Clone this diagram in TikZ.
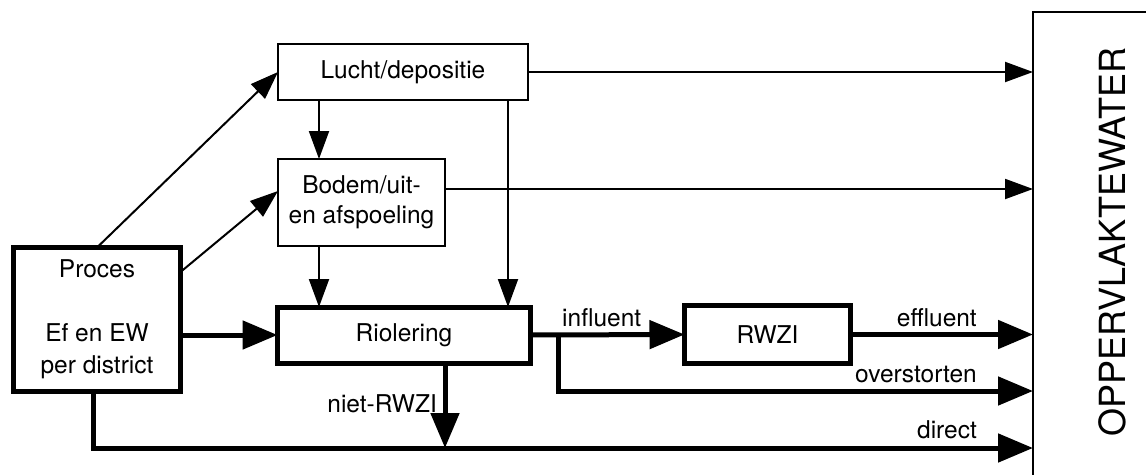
\documentclass[tikz,border=0pt]{standalone}
\usepackage{fontspec}
\setmainfont{TeX Gyre Heros}
\usetikzlibrary{arrows.meta,calc}
\begin{document}
\begin{tikzpicture}[x=1pt,y=-1pt,
  box/.style={draw,line width=2pt,inner sep=0pt,outer sep=0pt,align=center,font=\fontsize{24.5}{30}\selectfont},
  thickbox/.style={box,line width=5pt},
  thinarrow/.style={line width=2pt,-{Triangle[length=28pt,width=20pt]}},
  thickarrow/.style={line width=5pt,-{Triangle[length=35pt,width=28pt]}},
  thickline/.style={line width=5pt},
  lbl/.style={font=\fontsize{24.5}{30}\selectfont,inner sep=0pt}
]
\useasboundingbox (0,0) rectangle (1146,474);
% boxes
\node[box,minimum width=250pt,minimum height=56pt] (lucht) at (403,72) {Lucht/depositie};
\node[box,minimum width=167pt,minimum height=87pt] (bodem) at (361.5,202.5) {Bodem/uit-\\en afspoeling};
\node[thickbox,minimum width=167pt,minimum height=144pt,font=\fontsize{24.5}{32}\selectfont] (proces) at (97,319.5) {Proces\\[32pt]Ef en EW\\per district};
\node[thickbox,minimum width=253pt,minimum height=56pt] (riol) at (404,335) {Riolering};
\node[thickbox,minimum width=166pt,minimum height=58pt] (rwzi) at (767.5,334.5) {RWZI};
\node[draw,line width=2pt,inner sep=0pt,outer sep=0pt,minimum width=200pt,minimum height=520pt,anchor=north west] (opp) at (1033,12) {};
\node[font=\fontsize{36}{40}\selectfont,rotate=90,inner sep=0pt] (opptext) at (1112,242) {OPPERVLAKTEWATER};
% helper coordinates
\coordinate (c93) at (93,0);
\coordinate (c319) at (319,0);
\coordinate (c508) at (508,0);
\coordinate (c445) at (445,0);
\coordinate (br) at (558,335);
\coordinate (y189) at (0,189);
\coordinate (y191) at (0,191);
\coordinate (y272) at (0,272);
\coordinate (y391) at (0,391);
\coordinate (y448) at (0,448);
% thin connectors
\draw[thinarrow] (proces.north) -- (lucht.west);
\draw[thinarrow] (proces.east |- y272) -- (bodem.west |- y191);
\draw[thinarrow] (lucht.south -| c319) -- (bodem.north -| c319);
\draw[thinarrow] (bodem.south -| c319) -- (riol.north -| c319);
\draw[thinarrow] (lucht.south -| c508) -- (riol.north -| c508);
\draw[thinarrow] (lucht.east) -- (opp.west |- lucht.east);
\draw[thinarrow] (bodem.east |- y189) -- (opp.west |- y189);
% thick connectors
\draw[thickarrow] (proces.east |- riol.west) -- (riol.west);
\draw[thickarrow] (riol.east) -- (rwzi.west);
\draw[thickarrow] (br) |- (opp.west |- y391);
\draw[thickarrow] (rwzi.east) -- (opp.west |- rwzi.east);
\draw[thickarrow] (proces.south -| c93) |- (opp.west |- y448);
\draw[thickarrow] (riol.south -| c445) -- (c445 |- y448);
% labels
\node[lbl,anchor=base west] (linf) at (562,326) {influent};
\node[lbl,anchor=base east] (leff) at (977,326) {effluent};
\node[lbl,anchor=base east] (lover) at (977,382) {overstorten};
\node[lbl,anchor=base east] (ldir) at (977,438) {direct};
\node[lbl,anchor=base east] (lniet) at (437,412) {niet-RWZI};
\end{tikzpicture}
\end{document}
